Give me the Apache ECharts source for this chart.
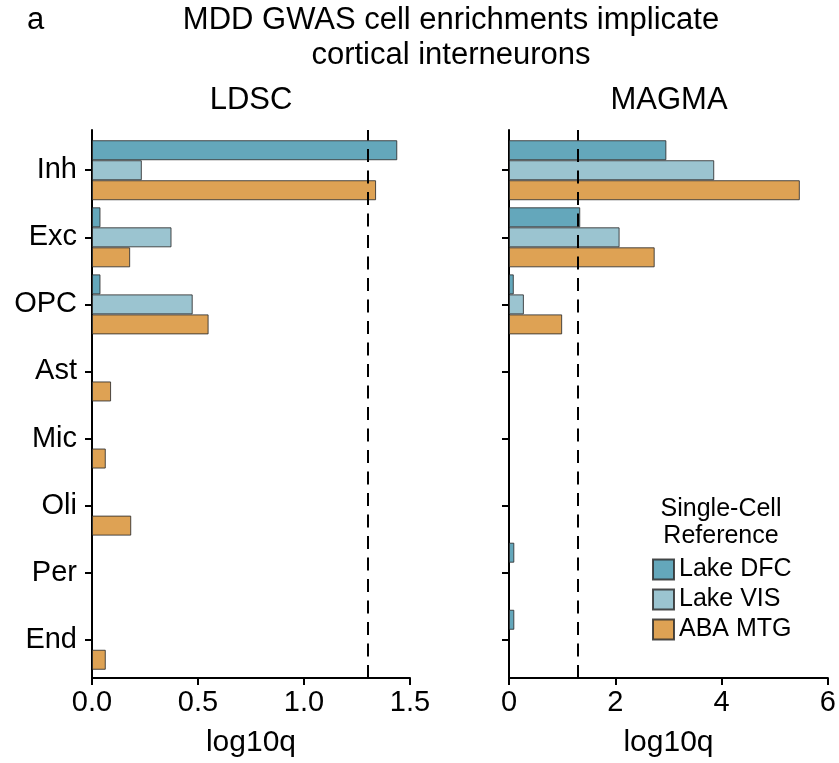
<!DOCTYPE html>
<html>
<head>
<meta charset="utf-8">
<script src="https://cdn.jsdelivr.net/npm/echarts@6/dist/echarts.min.js"></script>
<style>html,body{margin:0;padding:0;background:#fff;}#c{width:839px;height:763px;}</style>
</head>
<body>
<div id="c"></div>
<script>
// ---- data ----
const categories = ['Inh', 'Exc', 'OPC', 'Ast', 'Mic', 'Oli', 'Per', 'End'];
const refNames = ['Lake DFC', 'Lake VIS', 'ABA MTG'];
const ldscDFC = [1.44, 0.04, 0.04, null, null, null, null, null];
const ldscVIS = [0.235, 0.375, 0.475, null, null, null, null, null];
const ldscMTG = [1.34, 0.18, 0.55, 0.09, 0.065, 0.185, null, 0.065];
const magmaDFC = [2.96, 1.34, 0.09, null, null, null, 0.1, 0.1];
const magmaVIS = [3.86, 2.08, 0.28, null, null, null, null, null];
const magmaMTG = [5.47, 2.74, 1.0, null, null, null, null, null];
const sigThreshold = 1.301; // -log10(0.05)
const ldscTicks = [0, 0.5, 1.0, 1.5];
const magmaTicks = [0, 2, 4, 6];

// ---- styling ----
const FONT = "'Liberation Sans', Arial, sans-serif";
const colors = ['#64a7bb', '#9bc4d0', '#dea254'];
const border = 'rgba(45,45,45,0.85)';

const chart = echarts.init(document.getElementById('c'), null, {renderer: 'canvas'});

const barsTop = 136.7, barsH = 536.6, axTop = 130, axH = 550;
const leftL = 92, leftW = 318, rightL = 509, rightW = 319;

function barSeries(name, idx, data, axisIdx) {
  return {
    type: 'bar', name: name, data: data,
    xAxisIndex: axisIdx, yAxisIndex: axisIdx,
    barWidth: 20, barGap: '0%',
    itemStyle: {color: colors[idx], borderColor: border, borderWidth: 1},
    z: 2, silent: true
  };
}
function threshSeries(axisIdx) {
  return {
    type: 'line', data: [], xAxisIndex: axisIdx, yAxisIndex: axisIdx, z: 5,
    markLine: {
      silent: true, symbol: ['none', 'none'], label: {show: false},
      lineStyle: {color: '#000', width: 2, type: [13, 8.5]},
      data: [{xAxis: sigThreshold}],
      animation: false
    }
  };
}
function visX(gridIdx, ticks) {
  return {
    type: 'value', gridIndex: gridIdx, min: ticks[0], max: ticks[ticks.length - 1],
    interval: ticks[1] - ticks[0],
    axisLine: {show: true, lineStyle: {color: '#000', width: 2}},
    axisTick: {show: true, length: 7, lineStyle: {color: '#000', width: 2}},
    axisLabel: {show: true, color: '#000', fontSize: 29, fontFamily: FONT, margin: 10,
      formatter: v => (ticks[ticks.length - 1] < 2 ? v.toFixed(1) : String(v))},
    splitLine: {show: false},
    name: 'log10q', nameLocation: 'middle', nameGap: 50,
    nameTextStyle: {color: '#000', fontSize: 30, fontFamily: FONT, verticalAlign: 'top'}
  };
}
function hidX(gridIdx, ticks) {
  return {type: 'value', gridIndex: gridIdx, min: ticks[0], max: ticks[ticks.length - 1], show: false, splitLine: {show: false}};
}
function catY(gridIdx, showLabels) {
  return {
    type: 'category', gridIndex: gridIdx, data: categories, inverse: true,
    axisLine: {show: false},
    axisTick: {show: true, alignWithLabel: true, length: 7, lineStyle: {color: '#000', width: 2}},
    axisLabel: {show: showLabels, color: '#000', fontSize: 29, fontFamily: FONT, margin: 15},
    splitLine: {show: false}
  };
}
function lineY(gridIdx) {
  return {
    type: 'value', gridIndex: gridIdx, min: 0, max: 1,
    axisLine: {show: true, lineStyle: {color: '#000', width: 2}},
    axisTick: {show: false}, axisLabel: {show: false}, splitLine: {show: false}
  };
}

const option = {
  animation: false,
  backgroundColor: '#fff',
  textStyle: {fontFamily: FONT},
  title: [
    {text: 'MDD GWAS cell enrichments implicate\ncortical interneurons', left: 451, top: 3, padding: 0,
      textAlign: 'center',
      textStyle: {fontSize: 31, lineHeight: 35, fontWeight: 'normal', color: '#000', fontFamily: FONT}},
    {text: 'a', left: 27, top: 3, padding: 0,
      textStyle: {fontSize: 31, lineHeight: 35, fontWeight: 'normal', color: '#000', fontFamily: FONT}},
    {text: 'LDSC', left: 251, top: 83, padding: 0, textAlign: 'center',
      textStyle: {fontSize: 31, lineHeight: 35, fontWeight: 'normal', color: '#000', fontFamily: FONT}},
    {text: 'MAGMA', left: 669, top: 83, padding: 0, textAlign: 'center',
      textStyle: {fontSize: 31, lineHeight: 35, fontWeight: 'normal', color: '#000', fontFamily: FONT}},
    {text: 'Single-Cell\nReference', left: 721, top: 496, padding: 0, textAlign: 'center',
      textStyle: {fontSize: 25, lineHeight: 27, fontWeight: 'normal', color: '#000', fontFamily: FONT}}
  ],
  legend: {
    data: refNames, orient: 'vertical', left: 652, top: 557, padding: 0,
    itemWidth: 21, itemHeight: 20, itemGap: 5, itemTextGap: 10, icon: 'rect',
    textStyle: {fontSize: 25, lineHeight: 24, color: '#000', fontFamily: FONT},
    selectedMode: false
  },
  grid: [
    {left: leftL, width: leftW, top: barsTop, height: barsH},
    {left: leftL, width: leftW, top: axTop, height: axH},
    {left: rightL, width: rightW, top: barsTop, height: barsH},
    {left: rightL, width: rightW, top: axTop, height: axH}
  ],
  xAxis: [hidX(0, ldscTicks), visX(1, ldscTicks), hidX(2, magmaTicks), visX(3, magmaTicks)],
  yAxis: [catY(0, true), lineY(1), catY(2, false), lineY(3)],
  series: [
    barSeries(refNames[0], 0, ldscDFC, 0),
    barSeries(refNames[1], 1, ldscVIS, 0),
    barSeries(refNames[2], 2, ldscMTG, 0),
    barSeries(refNames[0], 0, magmaDFC, 2),
    barSeries(refNames[1], 1, magmaVIS, 2),
    barSeries(refNames[2], 2, magmaMTG, 2),
    threshSeries(1),
    threshSeries(3)
  ]
};
chart.setOption(option);
</script>
</body>
</html>
